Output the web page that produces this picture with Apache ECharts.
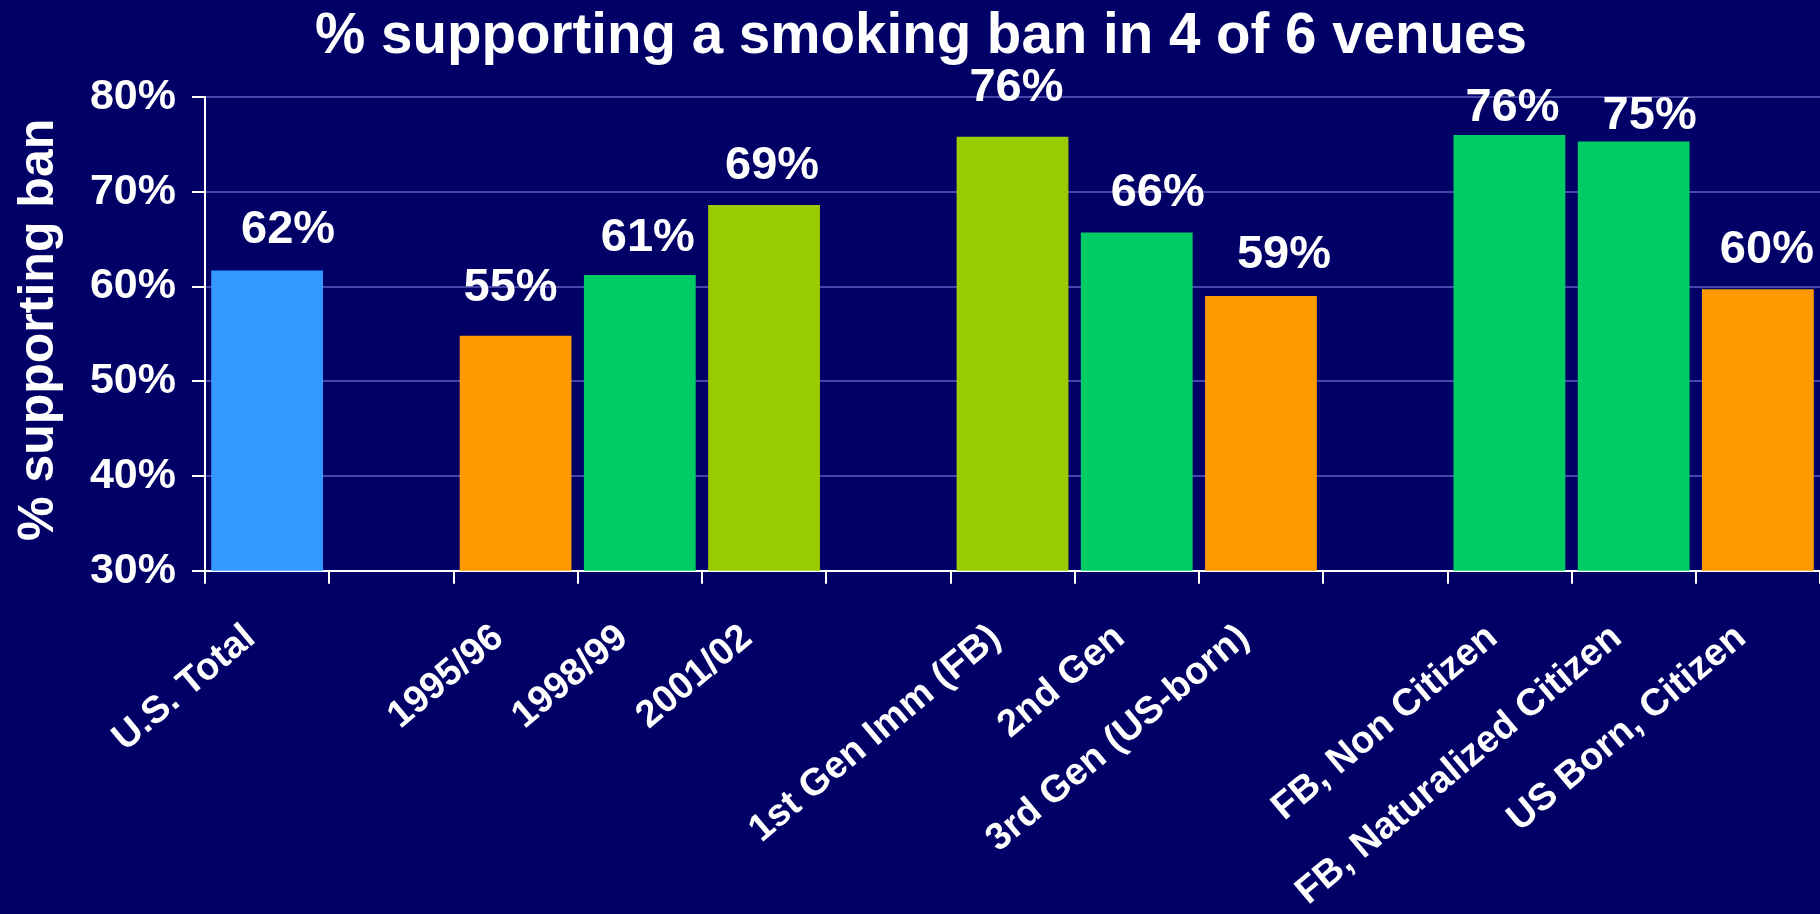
<!DOCTYPE html>
<html>
<head>
<meta charset="utf-8">
<script src="https://cdn.jsdelivr.net/npm/echarts@6/dist/echarts.min.js"></script>
<style>
  html, body { margin: 0; padding: 0; background: #000066; }
  #chart { width: 1820px; height: 914px; }
</style>
</head>
<body>
<div id="chart"></div>
<script>
// Share of respondents supporting a smoking ban in 4 of 6 venues, by group
const categories = [
  'U.S. Total', '',
  '1995/96', '1998/99', '2001/02', '',
  '1st Gen Imm (FB)', '2nd Gen', '3rd Gen (US-born)', '',
  'FB, Non Citizen', 'FB, Naturalized Citizen', 'US Born, Citizen'
];
const supportPct = [61.7, null, 54.8, 61.2, 68.6, null, 75.8, 65.7, 59.0, null, 76.0, 75.3, 59.7];
const yTicks = { min: 30, max: 80, step: 10 };

// Bar fill per category (blank spacer slots carry no colour)
const barColors = ['#3399FF', null, '#FF9900', '#00CC66', '#99CC00', null,
                   '#99CC00', '#00CC66', '#FF9900', null, '#00CC66', '#00CC66', '#FF9900'];
// Hand-placed value labels: [horizontal nudge, gap above bar]
const labelPlacement = [[21, 26], null, [-5, 33], [8, 23], [8, 24], null,
                        [4, 34], [21, 25], [23, 26], null, [3, 12], [16, 11], [9, 25]];

const FONT = '"Liberation Sans", Arial, Helvetica, sans-serif';
const BASELINE_PAD = 9; // distance from label box bottom to digit baseline

const seriesData = supportPct.map((v, i) => {
  if (v === null) return null;
  const [dx, gap] = labelPlacement[i];
  return {
    value: v,
    itemStyle: { color: barColors[i] },
    label: { offset: [dx, 0], distance: gap - BASELINE_PAD }
  };
});

const chart = echarts.init(document.getElementById('chart'), null, { renderer: 'canvas' });
chart.setOption({
  backgroundColor: '#000066',
  animation: false,
  title: {
    text: '% supporting a smoking ban in 4 of 6 venues',
    left: 916,
    textAlign: 'center',
    top: 4,
    textStyle: { color: '#FFFFFF', fontSize: 56.5, fontWeight: 'bold', fontFamily: FONT }
  },
  grid: { left: 205, top: 97, width: 1619, height: 475, containLabel: false },
  xAxis: {
    type: 'category',
    data: categories,
    axisLine: { lineStyle: { color: '#FFFFFF', width: 2 } },
    axisTick: { show: true, length: 13, lineStyle: { color: '#FFFFFF', width: 2 } },
    axisLabel: {
      interval: 0,
      rotate: 40,
      margin: 48,
      padding: [0, 22, 0, 0],
      color: '#FFFFFF',
      fontSize: 38,
      fontWeight: 'bold',
      fontFamily: FONT
    },
    splitLine: { show: false }
  },
  yAxis: {
    type: 'value',
    min: yTicks.min,
    max: yTicks.max,
    interval: yTicks.step,
    name: '% supporting ban',
    nameLocation: 'middle',
    nameRotate: 90,
    nameGap: 141,
    nameTextStyle: {
      color: '#FFFFFF', fontSize: 50, fontWeight: 'bold', fontFamily: FONT,
      padding: [0, 0, 0, 8]
    },
    axisLine: { show: true, lineStyle: { color: '#FFFFFF', width: 2 } },
    axisTick: { show: true, length: 13, lineStyle: { color: '#FFFFFF', width: 2 } },
    axisLabel: {
      margin: 29,
      color: '#FFFFFF',
      fontSize: 43,
      fontWeight: 'bold',
      fontFamily: FONT,
      formatter: '{value}%'
    },
    splitLine: { show: true, lineStyle: { color: '#4646A6', width: 2 } }
  },
  series: [{
    type: 'bar',
    data: seriesData,
    barCategoryGap: '10%',
    label: {
      show: true,
      position: 'top',
      color: '#FFFFFF',
      fontSize: 47,
      fontWeight: 'bold',
      fontFamily: FONT,
      formatter: p => Math.round(p.value) + '%'
    }
  }]
});
</script>
</body>
</html>
